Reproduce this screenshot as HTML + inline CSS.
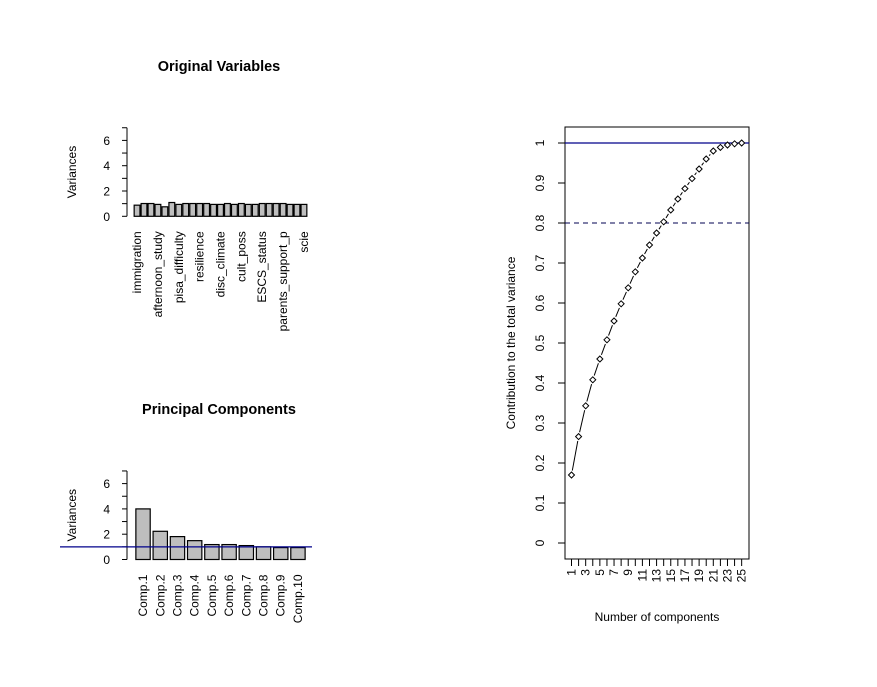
<!DOCTYPE html>
<html><head><meta charset="utf-8"><style>
body{margin:0;background:#fff;}
svg{display:block;font-family:"Liberation Sans",Arial,sans-serif;}
</style></head><body>
<svg id="c" width="877" height="687" xmlns="http://www.w3.org/2000/svg"></svg>
<script>
const origVarLabels = ["immigration","","","afternoon_study","","","pisa_difficulty","","","resilience","","","disc_climate","","","cult_poss","","","ESCS_status","","","parents_support_p","","","scie"];
const origVarValues = [0.88,1.01,1.01,0.94,0.75,1.09,0.94,1.01,1.01,1.01,1.01,0.94,0.94,1.01,0.94,1.01,0.94,0.94,1.01,1.01,1.01,1.01,0.94,0.94,0.94];
const pcLabels = ["Comp.1","Comp.2","Comp.3","Comp.4","Comp.5","Comp.6","Comp.7","Comp.8","Comp.9","Comp.10"];
const pcValues = [4.0,2.23,1.81,1.49,1.18,1.18,1.1,1.0,0.94,0.94];
const cumValues = [0.17,0.266,0.343,0.408,0.46,0.508,0.555,0.598,0.638,0.678,0.7125,0.745,0.775,0.803,0.8325,0.86,0.886,0.911,0.935,0.96,0.98,0.989,0.995,0.998,1.0];
const yTicksLeft = [0,2,4,6];
const yTicksRight = [0,0.1,0.2,0.3,0.4,0.5,0.6,0.7,0.8,0.9,1];

const svg = document.getElementById('c');
const NS = "http://www.w3.org/2000/svg";
function mk(tag, attrs, parent){const e=document.createElementNS(NS,tag);for(const k in attrs)e.setAttribute(k,attrs[k]);(parent||svg).appendChild(e);return e;}
function txt(s, attrs, parent){const e=mk('text',attrs,parent);e.textContent=s;return e;}

function barPanel(name, title, titleY, labels, values, y0px, x0, x1, labelFont, abline){
  const g=mk('g',{});
  
  
  const sy=12.65, yS=v=>y0px-v*sy;
  const t=txt(title,{x:219,y:titleY,'text-anchor':'middle','font-size':'14.5','font-weight':'bold'},g);
  
  
  const ax=127;
  mk('line',{x1:ax,y1:yS(0),x2:ax,y2:yS(7),stroke:'#000'},g);
  for(let v=0;v<=7;v++) mk('line',{x1:ax-5,y1:yS(v),x2:ax,y2:yS(v),stroke:'#000'},g);
  yTicksLeft.forEach(v=>{const l=txt(String(v),{x:110,y:yS(v)+4.5,'text-anchor':'end','font-size':'12'},g);
    
    });
  const yl=txt('Variances',{x:0,y:0,'text-anchor':'middle','font-size':'12',transform:`translate(76,${yS(3.5)}) rotate(-90)`},g);
  
  
  const n=values.length, unit=(x1-x0)/(n*1.2+0.2);
  values.forEach((v,i)=>{
    const bx=x0+unit*(0.2+i*1.2);
    const r=mk('rect',{x:bx,y:yS(v),width:unit,height:v*sy,fill:'#bebebe',stroke:'#000','stroke-width':1.2},g);
    
    
    if(labels[i]){
      const cx=bx+unit/2+4;
      const l=txt(labels[i],{x:0,y:0,'text-anchor':'end','font-size':labelFont,transform:`translate(${cx},${y0px+15}) rotate(-90)`},g);
      
      
    }
  });
  if(abline){const a=mk('line',{x1:60,y1:yS(1),x2:312,y2:yS(1),stroke:'#00008b','stroke-width':1.2},g);
    
    }
}
barPanel('original-variables-chart','Original Variables',71,origVarLabels,origVarValues,216.3,133,308,'12',false);
barPanel('principal-components-chart','Principal Components',414,pcLabels,pcValues,559.5,133,308,'12',true);

const g=mk('g',{});


const yR=v=>543-v*400, xR=i=>571.5+(i-1)*7.09;
mk('rect',{x:565,y:127,width:184,height:432,fill:'none',stroke:'#000'},g);
mk('line',{x1:565,y1:yR(1),x2:749,y2:yR(1),stroke:'#00008b','stroke-width':1.2},g);
mk('line',{x1:565,y1:yR(0.8),x2:749,y2:yR(0.8),stroke:'#000050','stroke-dasharray':'5,4'},g);
yTicksRight.forEach(v=>{
  mk('line',{x1:558,y1:yR(v),x2:565,y2:yR(v),stroke:'#000'},g);
  const l=txt(String(v),{x:0,y:0,'text-anchor':'middle','font-size':'12',transform:`translate(544,${yR(v)}) rotate(-90)`},g);
  
  
});
cumValues.forEach((v,k)=>{
  const i=k+1;
  mk('line',{x1:xR(i),y1:559,x2:xR(i),y2:566,stroke:'#000'},g);
  if(i%2===1){const l=txt(String(i),{x:0,y:0,'text-anchor':'end','font-size':'12',transform:`translate(${xR(i)+4},569) rotate(-90)`},g);
    
    }
  if(k>0){
    const xa=xR(i-1),ya=yR(cumValues[k-1]),xb=xR(i),yb=yR(v);
    const dx=xb-xa,dy=yb-ya,d=Math.hypot(dx,dy),gap=4.5;
    if(d>2*gap+1) mk('line',{x1:xa+dx/d*gap,y1:ya+dy/d*gap,x2:xb-dx/d*gap,y2:yb-dy/d*gap,stroke:'#000'},g);
  }
});
cumValues.forEach((v,k)=>{
  const x=xR(k+1),y=yR(v);
  const p=mk('path',{d:`M${x-3},${y} L${x},${y-3} L${x+3},${y} L${x},${y+3} Z`,fill:'#fff',stroke:'#000'},g);
  
  
});
const yl=txt('Contribution to the total variance',{x:0,y:0,'text-anchor':'middle','font-size':'12',transform:'translate(515,343) rotate(-90)'},g);


const xl=txt('Number of components',{x:657,y:621,'text-anchor':'middle','font-size':'12'},g);


</script>
</body></html>
